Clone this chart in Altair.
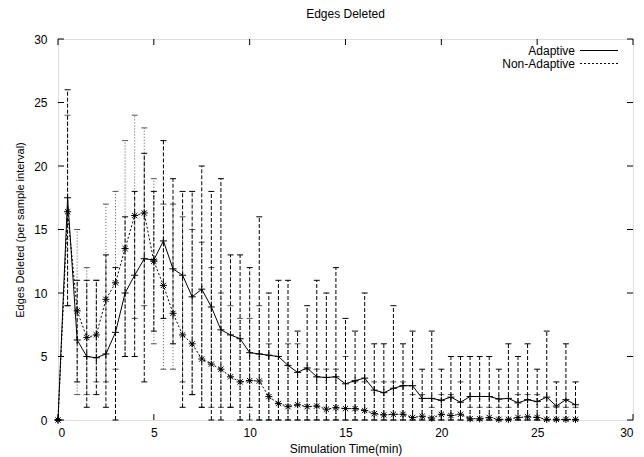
import altair as alt
import pandas as pd

# ---------------- data ----------------
time = [0, 0.5, 1, 1.5, 2, 2.5, 3, 3.5, 4, 4.5, 5, 5.5, 6, 6.5, 7, 7.5, 8, 8.5, 9, 9.5,
        10, 10.5, 11, 11.5, 12, 12.5, 13, 13.5, 14, 14.5, 15, 15.5, 16, 16.5, 17, 17.5,
        18, 18.5, 19, 19.5, 20, 20.5, 21, 21.5, 22, 22.5, 23, 23.5, 24, 24.5, 25, 25.5,
        26, 26.5, 27]

adaptive_mean = [0, 17.5, 6.3, 5.0, 4.9, 5.2, 6.9, 10.0, 11.4, 12.7, 12.6, 14.1, 11.9, 11.4,
                 9.7, 10.3, 8.9, 7.1, 6.7, 6.4, 5.3,
                 5.2, 5.1, 5.0, 4.3, 3.75, 4.1, 3.4, 3.35, 3.4, 2.85, 3.1, 3.3, 2.35, 2.15,
                 2.5, 2.7, 2.7, 1.7, 1.7,
                 1.55, 1.8, 1.4, 1.85, 1.85, 1.85, 1.65, 1.7, 1.35, 1.6, 1.45, 1.8, 1.1, 1.6, 1.2]
adaptive_low = [0, 9, 3, 1, 2, 1, 0, 5, 5, 3, 7, 8, 6, 1, 2, 1, 0, 0, 1, 0, 1,
                0, 0, 0, 0, 0, 0, 0, 0, 0, 0, 0, 0, 0, 0, 0, 0, 0, 0, 0,
                0, 0, 0, 0, 0, 0, 0, 0, 0, 0, 0, 0, 0, 0, 0]
adaptive_high = [0, 26, 11, 11, 11, 13, 12, 16, 18, 21, 18, 22, 19, 18, 18, 20, 18, 19, 13, 13, 12,
                 16, 10, 11, 11, 7, 9, 11, 10, 12, 8, 7, 10, 6, 6, 9, 6, 7, 4, 7,
                 4, 5, 5, 5, 5, 5, 4, 6, 5, 6, 4, 7, 3, 6, 3]

nonadaptive_mean = [0, 16.4, 8.6, 6.5, 6.7, 9.5, 10.8, 13.5, 16.1, 16.3, 12.5, 10.6, 8.4, 6.7,
                    6.0, 4.8, 4.4, 4.0, 3.4, 3.0, 3.1,
                    3.07, 1.84, 1.3, 1.05, 1.2, 1.05, 1.1, 0.85, 0.97, 0.9, 0.9, 0.75, 0.5, 0.4,
                    0.45, 0.45, 0.2, 0.3, 0.15,
                    0.45, 0.35, 0.45, 0.1, 0.1, 0.2, 0.05, 0.05, 0.2, 0.25, 0.2, 0.05, 0.05, 0.05, 0.05]
nonadaptive_low = [0, 9, 2, 2, 3, 3, 4, 5, 8, 9, 6, 4, 4, 3, 2, 1, 1, 1, 1, 0, 0,
                   0, 0, 0, 0, 0, 0, 0, 0, 0, 0, 0, 0, 0, 0, 0, 0, 0, 0, 0,
                   0, 0, 0, 0, 0, 0, 0, 0, 0, 0, 0, 0, 0, 0, 0]
nonadaptive_high = [0, 24, 15, 12, 11, 17, 18, 22, 24, 23, 19, 17, 17, 16, 15, 14, 12, 10, 9, 8, 8,
                    9, 6, 5, 6, 6, 4, 4, 4, 4, 5, 3, 3, 3, 3, 3, 3, 2, 2, 1,
                    2, 2, 3, 1, 1, 1, 1, 1, 2, 2, 2, 1, 1, 1, 1]

series_names = ["Adaptive", "Non-Adaptive"]
tick_values = [0, 5, 10, 15, 20, 25, 30]

# ---------------- tables ----------------
ad = pd.DataFrame({"time": time, "mean": adaptive_mean, "low": adaptive_low,
                   "high": adaptive_high, "series": series_names[0]})
na = pd.DataFrame({"time": time, "mean": nonadaptive_mean, "low": nonadaptive_low,
                   "high": nonadaptive_high, "series": series_names[1]})
ticks_df = pd.DataFrame({"v": tick_values})
legend_df = pd.DataFrame({"series": series_names})

W, H = 575, 381
FONT = "Liberation Sans"
FS = 12

xaxis = alt.Axis(values=tick_values, ticks=False, grid=False, domain=False,
                 labelPadding=7, labelFont=FONT, labelFontSize=FS, labelColor="black",
                 title="Simulation Time(min)", titleFont=FONT, titleFontSize=FS,
                 titleFontWeight="normal", titleColor="black",
                 titleY=28, titleBaseline="middle")
yaxis = alt.Axis(values=tick_values, ticks=False, grid=False, domain=False,
                 labelPadding=11, labelFont=FONT, labelFontSize=FS, labelColor="black",
                 title="Edges Deleted (per sample interval)", titleFont=FONT,
                 titleFontSize=11, titleFontWeight="normal", titleColor="black",
                 titleX=-38, titleY=H / 2, titleAngle=-90, titleBaseline="middle")
xs = alt.Scale(domain=[0, 30], nice=False, zero=False)
ys = alt.Scale(domain=[0, 30], nice=False, zero=False)


def X(f):
    return alt.X(f, type="quantitative", scale=xs, axis=xaxis)


def Y(f):
    return alt.Y(f, type="quantitative", scale=ys, axis=yaxis)


def errbars(df, dash, col):
    rules = alt.Chart(df).mark_rule(color=col, strokeWidth=1, strokeDash=dash).encode(
        x=X("time"), y=Y("low"), y2=alt.Y2("high"))
    caps = alt.Chart(df).transform_fold(["low", "high"], as_=["k", "val"]).mark_tick(
        orient="horizontal", color=col, size=6, thickness=1, opacity=1).encode(
        x=X("time"), y=Y("val"))
    return rules + caps


plus_path = "M-1,0L1,0M0,-1L0,1"
star_path = "M-1,0L1,0M0,-1L0,1M-0.75,-0.75L0.75,0.75M-0.75,0.75L0.75,-0.75"

na_line = alt.Chart(na).mark_line(color="black", strokeWidth=1, strokeDash=[2, 2]).encode(
    x=X("time"), y=Y("mean"))
ad_line = alt.Chart(ad).mark_line(color="black", strokeWidth=1).encode(
    x=X("time"), y=Y("mean"))
na_pts = alt.Chart(na).mark_point(shape=star_path, size=50, color="black", strokeWidth=1,
                                  filled=False, opacity=1).encode(x=X("time"), y=Y("mean"))
ad_pts = alt.Chart(ad).mark_point(shape=plus_path, size=50, color="black", strokeWidth=1,
                                  filled=False, opacity=1).encode(x=X("time"), y=Y("mean"))

# inward ticks on all four sides (gnuplot style)
tk = alt.Chart(ticks_df).mark_rule(color="black", strokeWidth=1)
t_left = tk.encode(y=Y("v"), x=alt.value(0), x2=alt.value(6))
t_right = tk.encode(y=Y("v"), x=alt.value(W), x2=alt.value(W - 6))
t_bottom = tk.encode(x=X("v"), y=alt.value(H), y2=alt.value(H - 6))
t_top = tk.encode(x=X("v"), y=alt.value(0), y2=alt.value(6))

# legend (gnuplot style: label on the left, line sample on the right)
leg_ad = legend_df[legend_df.series == "Adaptive"]
leg_na = legend_df[legend_df.series == "Non-Adaptive"]
lt_ad = alt.Chart(leg_ad).mark_text(align="right", baseline="middle", font=FONT,
                                     fontSize=FS, color="black").encode(
    text="series:N", x=alt.value(517), y=alt.value(11.5))
lt_na = alt.Chart(leg_na).mark_text(align="right", baseline="middle", font=FONT,
                                     fontSize=FS, color="black").encode(
    text="series:N", x=alt.value(517), y=alt.value(24.5))
ll_ad = alt.Chart(leg_ad).mark_rule(color="black", strokeWidth=1).encode(
    x=alt.value(522), x2=alt.value(560), y=alt.value(11.5))
ll_na = alt.Chart(leg_na).mark_rule(color="black", strokeWidth=1, strokeDash=[2, 2]).encode(
    x=alt.value(522), x2=alt.value(560), y=alt.value(24.5))

chart = alt.layer(
    errbars(na, [1, 2], "#555555"), errbars(ad, [4, 2], "black"),
    na_line, ad_line, na_pts, ad_pts,
    t_left, t_right, t_bottom, t_top,
    lt_ad, lt_na, ll_ad, ll_na,
).properties(
    width=W, height=H,
    title=alt.TitleParams("Edges Deleted", font=FONT, fontSize=FS, fontWeight="normal",
                          color="black", offset=12),
    autosize=alt.AutoSizeParams(type="none"),
    padding={"left": 50, "top": 31, "right": 3, "bottom": 36},
).configure_view(stroke="black", strokeWidth=1).configure(background="white")

chart.save("out.html", embed_options={"renderer": "svg", "actions": False})
